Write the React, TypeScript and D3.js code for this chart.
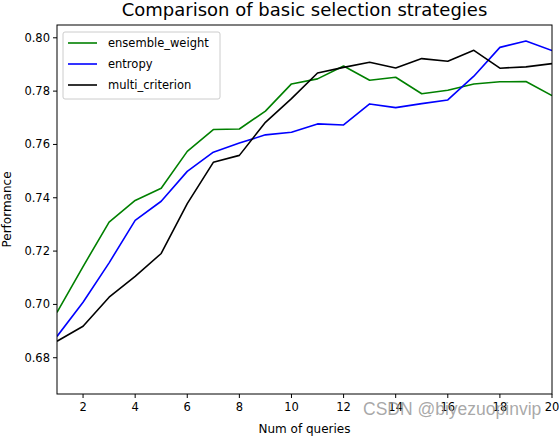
import React from 'react';
import * as d3 from 'd3';

// 数据：查询次数与三种策略的表现
const queries = [1, 2, 3, 4, 5, 6, 7, 8, 9, 10, 11, 12, 13, 14, 15, 16, 17, 18, 19, 20];
const ensembleWeight = [0.697, 0.7142, 0.7309, 0.739, 0.7436, 0.7574, 0.7656, 0.7658, 0.7725, 0.7827, 0.7846, 0.7894, 0.7841, 0.7852, 0.779, 0.7803, 0.7827, 0.7835, 0.7836, 0.7783];
const entropy = [0.688, 0.7008, 0.7156, 0.7315, 0.7387, 0.7499, 0.7571, 0.7605, 0.7636, 0.7646, 0.7677, 0.7673, 0.7752, 0.7738, 0.7753, 0.7767, 0.7856, 0.7964, 0.7988, 0.7952];
const multiCriterion = [0.6862, 0.6918, 0.7027, 0.7105, 0.7191, 0.7378, 0.7533, 0.7559, 0.7683, 0.7772, 0.7868, 0.7889, 0.7908, 0.7887, 0.7922, 0.7912, 0.7953, 0.7886, 0.7891, 0.7903];
const xTickValues = [2, 4, 6, 8, 10, 12, 14, 16, 18, 20];
const yTickValues = [0.68, 0.7, 0.72, 0.74, 0.76, 0.78, 0.8];

const series = [
  { name: 'ensemble_weight', values: ensembleWeight, color: '#008000' },
  { name: 'entropy', values: entropy, color: '#0000ff' },
  { name: 'multi_criterion', values: multiCriterion, color: '#000000' },
];

const WIDTH = 559;
const HEIGHT = 437;
const margin = { top: 25, right: 7, bottom: 43, left: 57 };
const FONT = '"DejaVu Sans", Verdana, sans-serif';

export default function App() {
  const innerWidth = WIDTH - margin.left - margin.right;
  const innerHeight = HEIGHT - margin.top - margin.bottom;

  const x = d3.scaleLinear().domain([1, 20]).range([0, innerWidth]);
  const y = d3.scaleLinear().domain([0.6664, 0.8048]).range([innerHeight, 0]);

  const line = d3.line<number>()
    .x((_, i) => x(queries[i]))
    .y(d => y(d));

  return (
    <svg
      width={WIDTH}
      height={HEIGHT}
      style={{ position: 'absolute', left: 0, top: 0, background: '#fff', fontFamily: FONT }}
    >
      {/* 标题 */}
      <text x={margin.left + innerWidth / 2} y={16} textAnchor="middle" fontSize={18} fill="#000">
        Comparison of basic selection strategies
      </text>

      <g transform={`translate(${margin.left},${margin.top})`}>
        <defs>
          <clipPath id="plotClip">
            <rect x={0} y={0} width={innerWidth} height={innerHeight} />
          </clipPath>
        </defs>

        {/* 折线 */}
        <g clipPath="url(#plotClip)">
          {series.map(s => (
            <path
              key={s.name}
              d={line(s.values) || ''}
              fill="none"
              stroke={s.color}
              strokeWidth={1.6}
              strokeLinejoin="round"
            />
          ))}
        </g>

        {/* 边框 */}
        <rect x={0} y={0} width={innerWidth} height={innerHeight} fill="none" stroke="#000" strokeWidth={1} />

        {/* x 轴刻度 */}
        {xTickValues.map(t => (
          <g key={`x-${t}`} transform={`translate(${x(t)},${innerHeight})`}>
            <line y1={0} y2={4} stroke="#000" strokeWidth={1} />
            <text y={17} textAnchor="middle" fontSize={11.5} fill="#000">{t}</text>
          </g>
        ))}

        {/* y 轴刻度 */}
        {yTickValues.map(t => (
          <g key={`y-${t}`} transform={`translate(0,${y(t)})`}>
            <line x1={-4} x2={0} stroke="#000" strokeWidth={1} />
            <text x={-7} dy="0.35em" textAnchor="end" fontSize={11.5} fill="#000">{t.toFixed(2)}</text>
          </g>
        ))}

        {/* 图例 */}
        <g transform="translate(6,7)">
          <rect x={0} y={0} width={157} height={67} rx={2} fill="#fff" fillOpacity={0.8} stroke="#ccc" />
          {series.map((s, i) => (
            <g key={`legend-${s.name}`} transform={`translate(0,${11 + i * 21})`}>
              <line x1={5} x2={34} stroke={s.color} strokeWidth={1.6} />
              <text x={45} dy="0.35em" fontSize={11.5} fill="#000">{s.name}</text>
            </g>
          ))}
        </g>
      </g>

      {/* 轴标题 */}
      <text x={margin.left + innerWidth / 2} y={433} textAnchor="middle" fontSize={12} fill="#000">
        Num of queries
      </text>
      <text
        transform={`translate(11,${margin.top + innerHeight / 2}) rotate(-90)`}
        textAnchor="middle"
        fontSize={12}
        fill="#000"
      >
        Performance
      </text>

      {/* 水印 */}
      <text x={363} y={415} fontSize={17.5} fill="#999" fillOpacity={0.85} fontFamily='"Liberation Sans", Arial, sans-serif'>
        CSDN @biyezuopinvip
      </text>
    </svg>
  );
}
